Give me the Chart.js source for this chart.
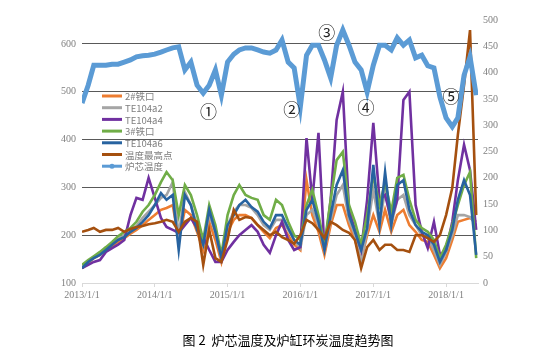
<!DOCTYPE html>
<html><head><meta charset="utf-8">
<script src="https://cdn.jsdelivr.net/npm/chart.js@4.4.1/dist/chart.umd.min.js"></script>
<style>html,body{margin:0;padding:0;background:#fff;}canvas{display:block;}</style>
</head><body>
<canvas id="c" width="560" height="357"></canvas>
<script>
// monthly sample dates
const months = [
 '2013-01','2013-02','2013-03','2013-04','2013-05','2013-06','2013-07','2013-08','2013-09','2013-10','2013-11','2013-12',
 '2014-01','2014-02','2014-03','2014-04','2014-05','2014-06','2014-07','2014-08','2014-09','2014-10','2014-11','2014-12',
 '2015-01','2015-02','2015-03','2015-04','2015-05','2015-06','2015-07','2015-08','2015-09','2015-10','2015-11','2015-12',
 '2016-01','2016-02','2016-03','2016-04','2016-05','2016-06','2016-07','2016-08','2016-09','2016-10','2016-11','2016-12',
 '2017-01','2017-02','2017-03','2017-04','2017-05','2017-06','2017-07','2017-08','2017-09','2017-10','2017-11','2017-12',
 '2018-01','2018-02','2018-03','2018-04','2018-05','2018-06'
];
const tieKou2 = [
 131,142,152,159,169,177,186,194,203,211,221,232,
 242,253,257,263,190,253,242,207,169,228,190,144,
 207,232,242,242,236,221,207,194,215,221,200,180,
 169,315,242,207,159,221,263,263,221,190,148,200,
 242,207,253,207,242,253,221,207,190,186,159,131,
 152,190,228,232,236,228
];
const te104a2 = [
 136,144,154,161,171,182,192,200,211,219,236,249,
 263,278,284,311,200,290,263,221,180,242,207,152,
 221,249,263,263,257,242,221,211,232,232,211,190,
 173,242,253,221,169,232,284,305,232,200,144,211,
 295,221,295,221,274,284,242,221,200,194,169,138,
 165,200,242,242,238,221
];
const te104a4 = [
 131,138,144,148,165,173,180,190,242,278,274,320,
 278,236,217,211,205,221,236,215,196,169,144,144,
 169,186,200,211,221,207,180,163,200,228,190,169,
 175,403,274,414,169,274,441,500,253,211,169,274,
 435,274,284,232,274,483,500,263,207,173,228,159,
 169,228,315,389,336,211
];
const tieKou3 = [
 138,148,156,165,175,186,198,207,215,228,249,263,
 284,311,332,315,242,305,284,242,190,263,221,159,
 242,284,305,284,278,274,242,232,274,263,228,200,
 190,263,295,242,180,274,357,374,263,228,180,242,
 326,263,311,249,320,326,274,232,215,207,190,152,
 180,221,263,305,332,152
];
const te104a6 = [
 131,144,152,159,169,180,190,196,207,215,228,242,
 263,288,274,284,169,284,263,211,180,253,207,152,
 221,242,263,274,259,249,228,215,242,242,215,190,
 180,253,274,228,169,242,305,336,242,207,169,215,
 347,221,332,221,305,315,253,221,207,200,180,144,
 169,211,274,315,284,159
];
const maxTemp = [
 207,211,215,207,211,211,215,207,213,217,219,223,
 225,228,232,228,207,228,236,228,138,211,152,144,
 190,253,232,238,236,221,211,200,207,196,190,182,
 200,232,225,211,194,228,221,211,205,190,131,175,
 190,169,180,180,169,169,165,200,200,194,186,200,
 242,299,410,514,629,242
];
// core temperature, right axis
const coreTemp = [
 342,376,414,414,414,416,416,420,424,430,432,433,
 435,439,443,447,449,405,420,376,361,376,405,357,
 420,435,443,447,447,443,439,437,443,462,420,409,
 335,433,452,452,424,390,452,481,452,420,405,363,
 414,452,452,443,466,452,462,428,433,413,409,354,
 314,297,314,395,430,357
];
const seriesNames = ['2#铁口','TE104a2','TE104a4','3#铁口','TE104a6','温度最高点','炉芯温度'];
const seriesColors = ['#ED7D31','#A5A5A5','#7030A0','#70AD47','#2763A0','#A5500F','#5B9BD5'];
const yearTickDates = ['2013-01-01','2014-01-01','2015-01-01','2016-01-01','2017-01-01','2018-01-01'];
const yearTickLabels = ['2013/1/1','2014/1/1','2015/1/1','2016/1/1','2017/1/1','2018/1/1'];
const leftTicks = [100,200,300,400,500,600];
const marks = [
 {text:'①', date:'2014-09-28', value:458},
 {text:'②', date:'2015-11-19', value:462},
 {text:'③', date:'2016-05-12', value:623},
 {text:'④', date:'2016-11-25', value:466},
 {text:'⑤', date:'2018-01-25', value:489}
];
const titleText = '图 2  炉芯温度及炉缸环炭温度趋势图';

function toMs(s){const p=s.split('-').map(Number);return Date.UTC(p[0],p[1]-1,p[2]||1);}
function pts(vals){return vals.map((v,i)=>({x:toMs(months[i]),y:v}));}

const allSeries=[tieKou2,te104a2,te104a4,tieKou3,te104a6,maxTemp,coreTemp];
const datasets = allSeries.map((vals,i)=>({
  label:seriesNames[i],
  data:pts(vals),
  borderColor:seriesColors[i],
  backgroundColor:seriesColors[i],
  borderWidth: i===6?5:2.6,
  pointRadius:0,
  tension:0,
  yAxisID: i===6?'y1':'y',
  order: 6-i
}));

const legendPlugin = {
  id:'insideLegend',
  afterDraw(chart){
    const ctx=chart.ctx, a=chart.chartArea;
    const x0=a.left+20, y0=a.top+76, dy=11.7;
    chart.data.datasets.forEach((ds,i)=>{
      const y=y0+i*dy;
      ctx.save();
      ctx.strokeStyle=ds.borderColor; ctx.lineWidth=3;
      ctx.beginPath(); ctx.moveTo(x0,y); ctx.lineTo(x0+20,y); ctx.stroke();
      if(i===6){ctx.fillStyle=ds.borderColor;ctx.beginPath();ctx.arc(x0+10,y,2.5,0,Math.PI*2);ctx.fill();}
      ctx.fillStyle='#7f7f7f'; ctx.font='9.5px "Noto Sans CJK SC", "DejaVu Sans"';
      ctx.textAlign='left'; ctx.textBaseline='middle';
      ctx.fillText(ds.label,x0+23,y+0.5);
      ctx.restore();
    });
  }
};
const marksPlugin = {
  id:'circledMarks',
  afterDraw(chart){
    const ctx=chart.ctx, sx=chart.scales.x, sy=chart.scales.y;
    ctx.save();
    ctx.fillStyle='#222'; ctx.font='17px "Noto Sans CJK SC"';
    ctx.textAlign='center'; ctx.textBaseline='middle';
    marks.forEach(m=>ctx.fillText(m.text,sx.getPixelForValue(toMs(m.date)),sy.getPixelForValue(m.value)));
    ctx.restore();
  }
};
const titlePlugin = {
  id:'bottomTitle',
  afterDraw(chart){
    const ctx=chart.ctx;
    ctx.save();
    ctx.fillStyle='#000'; ctx.font='13px "Noto Sans CJK SC"';
    ctx.textAlign='center'; ctx.textBaseline='middle';
    ctx.fillText(titleText,288,340);
    ctx.restore();
  }
};

const axisFont={family:'"Liberation Serif", serif', size:10};
new Chart(document.getElementById('c'),{
  type:'line',
  data:{datasets},
  options:{
    responsive:false, animation:false, devicePixelRatio:1,
    layout:{padding:{left:0,right:0,top:20,bottom:44}},
    plugins:{legend:{display:false},tooltip:{enabled:false},title:{display:false}},
    scales:{
      x:{
        type:'linear',
        min:toMs('2013-01-01'), max:toMs('2018-06-10'),
        afterBuildTicks(s){s.ticks=yearTickDates.map(d=>({value:toMs(d)}));},
        afterFit(s){s.height=30;},
        ticks:{color:'#7f7f7f',font:axisFont,padding:2,maxRotation:0,autoSkip:false,
          callback:(v,i)=>yearTickLabels[i]},
        grid:{drawOnChartArea:false,drawTicks:true,tickLength:4,color:'#d9d9d9'},
        border:{color:'#d9d9d9'}
      },
      y:{
        type:'linear', position:'left', min:100, max:650,
        afterBuildTicks(s){s.ticks=leftTicks.map(v=>({value:v}));},
        afterFit(s){s.width=82;},
        ticks:{color:'#7f7f7f',font:axisFont,padding:6},
        grid:{drawTicks:false,lineWidth:1,color:(c)=>c.tick&&c.tick.value===100?'#d9d9d9':'#595959'},
        border:{display:false}
      },
      y1:{
        type:'linear', position:'right', min:0, max:500,
        ticks:{stepSize:50,color:'#7f7f7f',font:axisFont,padding:5},
        afterFit(s){s.width=82;},
        grid:{drawOnChartArea:false,drawTicks:false},
        border:{display:false}
      }
    }
  },
  plugins:[legendPlugin,marksPlugin,titlePlugin]
});
</script>
</body></html>
